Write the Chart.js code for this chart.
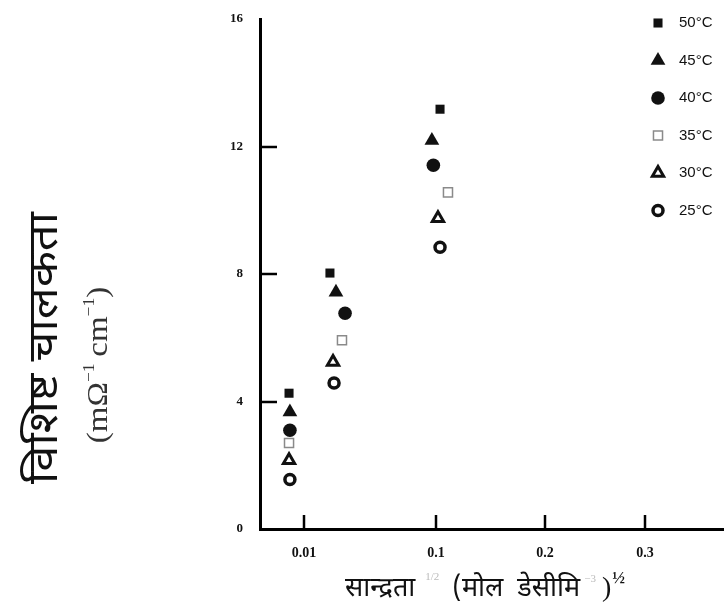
<!DOCTYPE html>
<html>
<head>
<meta charset="utf-8">
<script src="https://cdn.jsdelivr.net/npm/chart.js@4/dist/chart.umd.min.js"></script>
<style>
  body { margin: 0; background: #fff; }
  #wrap { width: 724px; height: 605px; }
</style>
</head>
<body>
<div id="wrap"><canvas id="grafico" width="724" height="605"></canvas></div>
<script>
// Series (temperatures) and values
const temperaturas = ['50°C', '45°C', '40°C', '35°C', '30°C', '25°C'];

// x: concentration^1/2, one value per temperature for each of the 3 groups
const x50 = [0.0066, 0.0277, 0.1037];
const y50 = [4.26, 8.03, 13.17];
const x45 = [0.0068, 0.0318, 0.0972];
const y45 = [3.67, 7.43, 12.19];
const x40 = [0.0068, 0.0380, 0.0982];
const y40 = [3.10, 6.77, 11.41];
const x35 = [0.0066, 0.0359, 0.1110];
const y35 = [2.70, 5.92, 10.56];
const x30 = [0.0066, 0.0298, 0.1018];
const y30 = [2.16, 5.24, 9.75];
const x25 = [0.0068, 0.0305, 0.1037];
const y25 = [1.55, 4.58, 8.84];

// tick labels
const xTickValues = [0.01, 0.1, 0.2, 0.3];
const xTickLabels = ['0.01', '0.1', '0.2', '0.3'];
const yTickValues = [0, 4, 8, 12, 16];

// the printed x axis is not evenly spaced: piecewise mapping value -> fraction of axis
const ejeValores = [0, 0.01, 0.1, 0.2, 0.3, 0.38];
const ejeFracciones = [0, 0.0948, 0.3793, 0.6142, 0.8297, 1];

function aFraccion(v) {
  for (let i = 1; i < ejeValores.length; i++) {
    if (v <= ejeValores[i] || i === ejeValores.length - 1) {
      const t = (v - ejeValores[i - 1]) / (ejeValores[i] - ejeValores[i - 1]);
      return ejeFracciones[i - 1] + t * (ejeFracciones[i] - ejeFracciones[i - 1]);
    }
  }
  return 0;
}
function deFraccion(f) {
  for (let i = 1; i < ejeFracciones.length; i++) {
    if (f <= ejeFracciones[i] || i === ejeFracciones.length - 1) {
      const t = (f - ejeFracciones[i - 1]) / (ejeFracciones[i] - ejeFracciones[i - 1]);
      return ejeValores[i - 1] + t * (ejeValores[i] - ejeValores[i - 1]);
    }
  }
  return 0;
}

class EscalaTramos extends Chart.LinearScale {
  buildTicks() {
    return xTickValues.map(v => ({ value: v }));
  }
  getPixelForValue(value) {
    return this.getPixelForDecimal(aFraccion(value));
  }
  getValueForPixel(pixel) {
    return deFraccion(this.getDecimalForPixel(pixel));
  }
}
EscalaTramos.id = 'tramos';
EscalaTramos.defaults = Chart.LinearScale.defaults;
Chart.register(EscalaTramos);

function puntos(xs, ys) {
  return xs.map((x, i) => ({ x: x, y: ys[i] }));
}

const estilos = [
  { pointStyle: 'rect',     radius: 6.4, bg: '#111', border: '#111', bw: 0 },
  { pointStyle: 'triangle', radius: 8.5, bg: '#111', border: '#111', bw: 0 },
  { pointStyle: 'circle',   radius: 6.8, bg: '#111', border: '#111', bw: 0 },
  { pointStyle: 'rect',     radius: 6.4, bg: '#fff', border: '#8a8a8a', bw: 1.5 },
  { pointStyle: 'triangle', radius: 6.5, bg: '#fff', border: '#111', bw: 3 },
  { pointStyle: 'circle',   radius: 5,   bg: '#fff', border: '#111', bw: 3.5 },
];
const series = [puntos(x50, y50), puntos(x45, y45), puntos(x40, y40),
                puntos(x35, y35), puntos(x30, y30), puntos(x25, y25)];

const datasets = series.map((d, i) => ({
  label: temperaturas[i],
  data: d,
  pointStyle: estilos[i].pointStyle,
  pointRadius: estilos[i].radius,
  backgroundColor: estilos[i].bg,
  borderColor: estilos[i].border,
  borderWidth: estilos[i].bw,
  showLine: false,
}));

const fuenteDeva = '"Noto Sans Devanagari", "Noto Serif Devanagari", "Lohit Devanagari", "FreeSans", "Mangal", sans-serif';
const serif = '"Liberation Serif", "Times New Roman", serif';

function dibujarTramos(ctx, runs, x, y) {
  runs.forEach(r => {
    ctx.font = r.font;
    ctx.fillStyle = r.color;
    ctx.fillText(r.text, x, y + (r.dy || 0));
    x += ctx.measureText(r.text).width + (r.gap || 0);
  });
  return x;
}

// ticks hacia dentro, leyenda y titulos
const extras = {
  id: 'extras',
  afterDraw(chart) {
    const ctx = chart.ctx;
    const sx = chart.scales.x, sy = chart.scales.y;
    const area = chart.chartArea;
    ctx.save();
    ctx.strokeStyle = '#000';
    ctx.lineWidth = 2.5;
    [4, 8, 12].forEach(v => {
      const py = Math.round(sy.getPixelForValue(v));
      ctx.beginPath(); ctx.moveTo(area.left, py); ctx.lineTo(area.left + 17, py); ctx.stroke();
    });
    xTickValues.forEach(v => {
      const px = Math.round(sx.getPixelForValue(v));
      ctx.beginPath(); ctx.moveTo(px, area.bottom); ctx.lineTo(px, area.bottom - 14); ctx.stroke();
    });

    // leyenda
    chart.data.datasets.forEach((ds, i) => {
      const yy = 23 + i * 37.5;
      ctx.fillStyle = ds.backgroundColor;
      ctx.strokeStyle = ds.borderColor;
      ctx.lineWidth = ds.borderWidth;
      Chart.helpers.drawPoint(ctx, { pointStyle: ds.pointStyle, radius: ds.pointRadius, rotation: 0, borderWidth: ds.borderWidth }, 658, yy);
      ctx.fillStyle = '#111';
      ctx.font = '15px "Liberation Sans", Arial, sans-serif';
      ctx.textBaseline = 'middle';
      ctx.textAlign = 'left';
      ctx.fillText(ds.label, 679, yy);
    });

    // titulo eje y
    ctx.textBaseline = 'alphabetic';
    ctx.save();
    ctx.translate(57, 348);
    ctx.rotate(-Math.PI / 2);
    ctx.scale(1.15, 1);
    ctx.textAlign = 'center';
    ctx.fillStyle = '#111';
    ctx.font = '41px ' + fuenteDeva;
    ctx.fillText('विशिष्ट चालकता', 0, 0);
    ctx.restore();

    ctx.save();
    ctx.translate(107, 365);
    ctx.rotate(-Math.PI / 2);
    ctx.scale(1.1, 1);
    ctx.textAlign = 'left';
    const runsY = [
      { text: '(mΩ', font: '30px ' + serif, color: '#333' },
      { text: '−1', font: '16px ' + serif, color: '#333', dy: -13, gap: 6 },
      { text: 'cm', font: '30px ' + serif, color: '#333' },
      { text: '−1', font: '16px ' + serif, color: '#333', dy: -13 },
      { text: ')', font: '30px ' + serif, color: '#333' },
    ];
    let w = 0;
    runsY.forEach(r => { ctx.font = r.font; w += ctx.measureText(r.text).width + (r.gap || 0); });
    dibujarTramos(ctx, runsY, -w / 2, 0);
    ctx.restore();

    // titulo eje x
    ctx.textAlign = 'left';
    const runsX = [
      { text: 'सान्द्रता', font: '27px ' + fuenteDeva, color: '#111', gap: 10 },
      { text: '1/2', font: '11px ' + serif, color: '#bbb', dy: -16, gap: 13 },
      { text: '(मोल', font: '27px ' + fuenteDeva, color: '#111', gap: 14 },
      { text: 'डेसीमि', font: '27px ' + fuenteDeva, color: '#111', gap: 4 },
      { text: '−3', font: '11px ' + serif, color: '#bbb', dy: -14, gap: 6 },
      { text: ')', font: '28px ' + serif, color: '#111', gap: 1 },
      { text: '½', font: 'bold 17px ' + serif, color: '#111', dy: -13 },
    ];
    dibujarTramos(ctx, runsX, 345, 596);
    ctx.restore();
  }
};

const grafico = new Chart(document.getElementById('grafico'), {
  type: 'scatter',
  data: { datasets: datasets },
  options: {
    responsive: false,
    animation: false,
    layout: { autoPadding: false, padding: { top: 19, right: 0, left: 0, bottom: 0 } },
    plugins: { legend: { display: false }, tooltip: { enabled: false } },
    scales: {
      x: {
        type: 'tramos',
        position: 'bottom',
        min: 0,
        max: 0.38,
        grid: { display: true, drawOnChartArea: false, drawTicks: false },
        border: { display: true, color: '#000', width: 3 },
        ticks: {
          autoSkip: false,
          maxRotation: 0,
          padding: 16,
          color: '#111',
          font: { family: '"Liberation Serif", serif', size: 14, weight: 'bold' },
          callback: (v, i) => xTickLabels[i],
        },
        afterFit: s => { s.height = 76; s.paddingLeft = 0; s.paddingRight = 0; },
      },
      y: {
        min: 0,
        max: 16,
        afterBuildTicks: s => { s.ticks = yTickValues.map(v => ({ value: v })); },
        grid: { display: true, drawOnChartArea: false, drawTicks: false },
        border: { display: true, color: '#000', width: 3 },
        ticks: {
          padding: 17,
          color: '#111',
          font: { family: '"Liberation Serif", serif', size: 13, weight: 'bold' },
        },
        afterFit: s => { s.width = 260; s.paddingTop = 0; s.paddingBottom = 0; },
      }
    }
  },
  plugins: [extras]
});
</script>
</body>
</html>
